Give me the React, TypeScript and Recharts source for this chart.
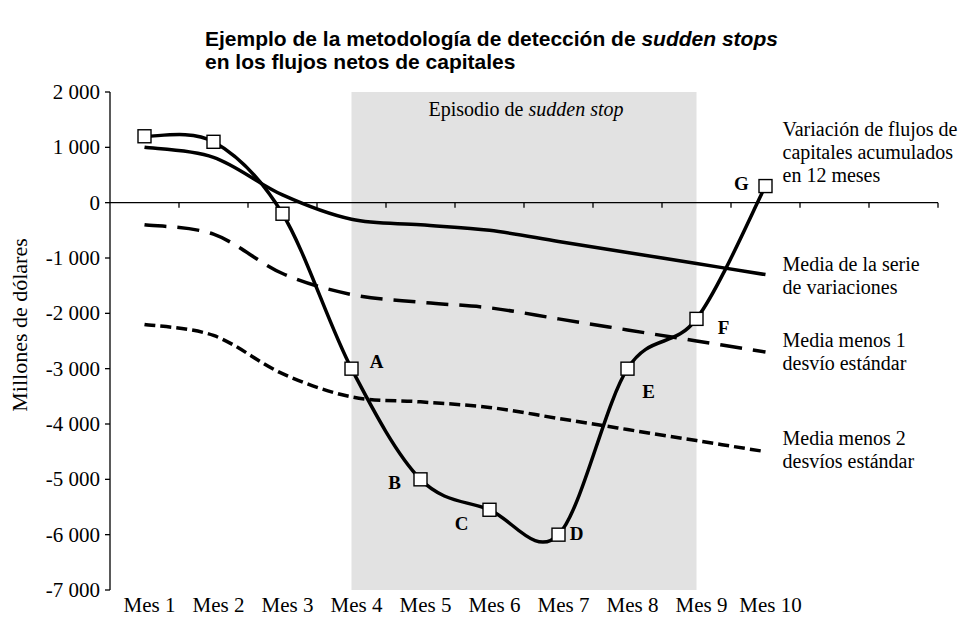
import React from 'react';
import { ComposedChart, Line, XAxis, YAxis, ReferenceArea, ReferenceLine, LabelList } from 'recharts';

// ---------- data ----------
const months = [1, 2, 3, 4, 5, 6, 7, 8, 9, 10];
const monthLabels = ['Mes 1', 'Mes 2', 'Mes 3', 'Mes 4', 'Mes 5', 'Mes 6', 'Mes 7', 'Mes 8', 'Mes 9', 'Mes 10'];
const capitalFlows = [1200, 1100, -200, -3000, -5000, -5550, -6000, -3000, -2100, 300];
const seriesMean = [1000, 820, 140, -300, -400, -500, -700, -900, -1100, -1300];
const meanMinus1Sd = [-400, -570, -1280, -1660, -1800, -1900, -2100, -2300, -2500, -2700];
const meanMinus2Sd = [-2200, -2400, -3090, -3510, -3600, -3700, -3900, -4100, -4300, -4500];
const pointLetters = ['', '', '', 'A', 'B', 'C', 'D', 'E', 'F', 'G'];
const yTicks = [-7000, -6000, -5000, -4000, -3000, -2000, -1000, 0, 1000, 2000];
const yDomain = [-7000, 2000];
const xDomain = [0.5, 12.5];
const zeroLineTicks = [1.5, 2.5, 3.5, 4.5, 5.5, 6.5, 7.5, 8.5, 9.5, 10.5, 11.5, 12.5];
const episodeFrom = 4;
const episodeTo = 9;
const titleLine1 = 'Ejemplo de la metodología de detección de ';
const titleItalic = 'sudden stops';
const titleLine2 = 'en los flujos netos de capitales';
const episodeText = 'Episodio de ';
const episodeItalic = 'sudden stop';
const yAxisTitle = 'Millones de dólares';
const flowsName = ['Variación de flujos de', 'capitales acumulados', 'en 12 meses'];
const meanName = ['Media de la serie', 'de variaciones'];
const minus1Name = ['Media menos 1', 'desvío estándar'];
const minus2Name = ['Media menos 2', 'desvíos estándar'];

// ---------- styles ----------
const SERIF = '"Liberation Serif", "Times New Roman", Times, serif';
const SANS = '"Liberation Sans", Arial, Helvetica, sans-serif';
const letterOffsets: Record<string, [number, number]> = {
  A: [25, -7], B: [-26, 3], C: [-28, 14], D: [18, -1], E: [21, 23], F: [27, 9], G: [-24, -3],
};
const endLabelOffsets: Record<string, [number, number]> = {
  flows: [17, -50], mean: [17, -4], minus1: [17, -5], minus2: [17, -7],
};
const endLabelLines: Record<string, string[]> = {
  flows: flowsName, mean: meanName, minus1: minus1Name, minus2: minus2Name,
};

const last = months.length - 1;
const data = months.map((m, i) => ({
  x: m,
  flows: capitalFlows[i],
  mean: seriesMean[i],
  minus1: meanMinus1Sd[i],
  minus2: meanMinus2Sd[i],
  letter: pointLetters[i],
  flowsEnd: i === last ? 'flows' : '',
  meanEnd: i === last ? 'mean' : '',
  minus1End: i === last ? 'minus1' : '',
  minus2End: i === last ? 'minus2' : '',
}));

// Excel-like smoothed line (uniform Catmull-Rom as cubic Bezier)
const smoothCurve: any = (context: any) => {
  let pts: number[][] = [];
  return {
    areaStart() {},
    areaEnd() {},
    lineStart() { pts = []; },
    lineEnd() {
      const n = pts.length;
      if (!n) return;
      context.moveTo(pts[0][0], pts[0][1]);
      for (let i = 0; i < n - 1; i++) {
        const p0 = pts[i - 1] || pts[i];
        const p1 = pts[i];
        const p2 = pts[i + 1];
        const p3 = pts[i + 2] || pts[i + 1];
        context.bezierCurveTo(
          p1[0] + (p2[0] - p0[0]) / 6, p1[1] + (p2[1] - p0[1]) / 6,
          p2[0] - (p3[0] - p1[0]) / 6, p2[1] - (p3[1] - p1[1]) / 6,
          p2[0], p2[1]
        );
      }
    },
    point(x: number, y: number) { pts.push([+x, +y]); },
  };
};

const fmt = (v: number) => {
  const s = Math.abs(v).toString().replace(/\B(?=(\d{3})+(?!\d))/g, ' ');
  return (v < 0 ? '-' : '') + s;
};

const getXY = (p: any) => {
  const vb = p.viewBox;
  const x = p.x != null ? p.x : vb ? vb.x + (vb.width || 0) / 2 : 0;
  const y = p.y != null ? p.y : vb ? vb.y + (vb.height || 0) / 2 : 0;
  return { x, y };
};

const SquareDot = (props: any) => {
  const { cx, cy, index } = props;
  if (cx == null || cy == null) return null;
  return (
    <rect key={`sq-${index}`} x={cx - 6.5} y={cy - 6.5} width={13} height={13}
      fill="#fff" stroke="#000" strokeWidth={1.4} />
  );
};

const renderLetter = (props: any) => {
  const value = props.value;
  if (!value || !letterOffsets[value]) return null;
  const { x, y } = getXY(props);
  const [dx, dy] = letterOffsets[value];
  return (
    <text key={`l-${value}`} x={x + dx} y={y + dy} textAnchor="middle" dominantBaseline="central"
      fontFamily={SERIF} fontWeight="bold" fontSize={19} fill="#000">{value}</text>
  );
};

const renderEndLabel = (props: any) => {
  const value = props.value;
  if (!value || !endLabelLines[value]) return null;
  const { x, y } = getXY(props);
  const [dx, dy] = endLabelOffsets[value];
  return (
    <text key={`e-${value}`} x={x + dx} y={y + dy} fontFamily={SERIF} fontSize={20} fill="#000">
      {endLabelLines[value].map((t, i) => (
        <tspan key={i} x={x + dx} dy={i === 0 ? 0 : 23}>{t}</tspan>
      ))}
    </text>
  );
};

const XTick = (props: any) => {
  const { x, y, payload } = props;
  const idx = months.indexOf(payload.value);
  return (
    <text x={x + 5} y={y + 22} textAnchor="middle" fontFamily={SERIF} fontSize={21} fill="#000">
      {monthLabels[idx]}
    </text>
  );
};

const YTick = (props: any) => {
  const { x, y, payload } = props;
  return (
    <text x={x} y={y + 7} textAnchor="end" fontFamily={SERIF} fontSize={21} fill="#000">
      {fmt(payload.value)}
    </text>
  );
};

const ZeroAxis = (props: any) => {
  const { x1, y1, x2, y2 } = props;
  const span = xDomain[1] - xDomain[0];
  return (
    <g>
      <line x1={x1} y1={y1} x2={x2} y2={y2} stroke="#000" strokeWidth={1.3} />
      {zeroLineTicks.map((t) => {
        const tx = x1 + ((t - xDomain[0]) / span) * (x2 - x1);
        return <line key={t} x1={tx} y1={y1} x2={tx} y2={y1 + 5} stroke="#000" strokeWidth={1.3} />;
      })}
    </g>
  );
};

const renderEpisode = (props: any) => {
  const vb = props.viewBox || {};
  const cx = vb.x + vb.width / 2;
  return (
    <text x={cx + 2} y={vb.y + 24} textAnchor="middle" fontFamily={SERIF} fontSize={20} fill="#000">
      {episodeText}<tspan fontStyle="italic">{episodeItalic}</tspan>
    </text>
  );
};

const renderYTitle = (props: any) => {
  const vb = props.viewBox || {};
  const cx = vb.x + 27;
  const cy = vb.y + vb.height / 2 - 16;
  return (
    <text x={cx} y={cy} transform={`rotate(-90 ${cx} ${cy})`} textAnchor="middle"
      fontFamily={SERIF} fontSize={22} fill="#000">{yAxisTitle}</text>
  );
};

export default function App() {
  return (
    <div style={{ position: 'absolute', left: 0, top: 0, width: 969, height: 617, background: '#fff' }}>
      <div style={{
        position: 'absolute', left: 205, top: 27, fontFamily: SANS, fontWeight: 'bold',
        fontSize: 21, lineHeight: '23px', color: '#000', whiteSpace: 'nowrap',
      }}>
        <div>{titleLine1}<i>{titleItalic}</i></div>
        <div>{titleLine2}</div>
      </div>
      <div style={{ position: 'absolute', left: 0, top: 0 }}>
        <ComposedChart width={969} height={617} data={data}
          margin={{ top: 92, right: 31, bottom: 0, left: 0 }}>
          <ReferenceArea x1={episodeFrom} x2={episodeTo} y1={yDomain[0]} y2={yDomain[1]}
            fill="#e2e2e2" fillOpacity={1} stroke="none" label={renderEpisode} ifOverflow="visible" />
          <XAxis dataKey="x" type="number" domain={xDomain} ticks={months} interval={0}
            axisLine={false} tickLine={false} tickSize={0} tickMargin={0} height={27} tick={<XTick />} />
          <YAxis type="number" domain={yDomain} ticks={yTicks} interval={0} width={110}
            axisLine={{ stroke: '#000', strokeWidth: 1.3 }} tickLine={{ stroke: '#000', strokeWidth: 1.3 }}
            tickSize={5} tickMargin={5} tick={<YTick />} label={renderYTitle} />
          <ReferenceLine y={0} shape={ZeroAxis} ifOverflow="visible" />
          <Line dataKey="minus2" type={smoothCurve} stroke="#000" strokeWidth={3.5}
            strokeDasharray="11 5" dot={false} activeDot={false} isAnimationActive={false}>
            <LabelList dataKey="minus2End" content={renderEndLabel} />
          </Line>
          <Line dataKey="minus1" type={smoothCurve} stroke="#000" strokeWidth={3.5}
            strokeDasharray="22 11" dot={false} activeDot={false} isAnimationActive={false}>
            <LabelList dataKey="minus1End" content={renderEndLabel} />
          </Line>
          <Line dataKey="mean" type={smoothCurve} stroke="#000" strokeWidth={3.5}
            dot={false} activeDot={false} isAnimationActive={false}>
            <LabelList dataKey="meanEnd" content={renderEndLabel} />
          </Line>
          <Line dataKey="flows" type={smoothCurve} stroke="#000" strokeWidth={3.5}
            dot={SquareDot} activeDot={false} isAnimationActive={false}>
            <LabelList dataKey="letter" content={renderLetter} />
            <LabelList dataKey="flowsEnd" content={renderEndLabel} />
          </Line>
        </ComposedChart>
      </div>
    </div>
  );
}
